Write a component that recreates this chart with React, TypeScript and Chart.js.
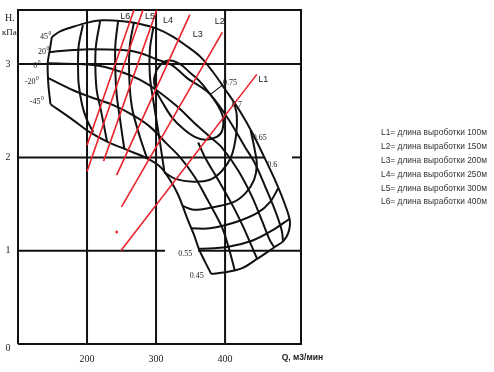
import React, { useEffect, useRef } from "react";
import { Chart, registerables } from "chart.js";

Chart.register(...registerables);

type P = [number, number];

// axis ranges
const Q_MIN = 100;
const Q_MAX = 510;
const H_MIN = 0;
const H_MAX = 3.58;
const xTicks = [200, 300, 400];
const yTicks = [0, 1, 2, 3];

// fan characteristic: blade angle curves (Q m3/min, H kPa)
const leftEdge: P[] = [[149, 3.29], [146, 3.15], [143, 3.01], [144, 2.78], [147, 2.57]];
const blade45: P[] = [[149, 3.29], [161, 3.35], [180, 3.40], [204, 3.45], [222, 3.47], [252, 3.46], [277, 3.43], [301, 3.38], [323, 3.30], [345, 3.19], [364, 3.08], [383, 2.91], [401, 2.72], [422, 2.49], [439, 2.27], [455, 2.03], [474, 1.73], [487, 1.49], [494, 1.31]];
const blade20: P[] = [[146, 3.13], [161, 3.14], [180, 3.15], [204, 3.16], [252, 3.15], [277, 3.12], [301, 3.05], [323, 2.99], [345, 2.85], [364, 2.76], [378, 2.68], [404, 2.42], [429, 2.11], [443, 1.94], [458, 1.69], [472, 1.44], [482, 1.22], [484, 1.10]];
const blade0: P[] = [[143, 3.01], [190, 3.00], [219, 2.98], [252, 2.91], [277, 2.83], [301, 2.72], [330, 2.55], [354, 2.38], [378, 2.22], [396, 2.10], [419, 1.86], [439, 1.58], [453, 1.33], [465, 1.11], [471, 1.04]];
const bladeM20: P[] = [[144, 2.85], [180, 2.72], [204, 2.65], [238, 2.56], [267, 2.45], [291, 2.33], [315, 2.15], [335, 2.00], [356, 1.79], [375, 1.54], [395, 1.26], [405, 1.04], [414, 0.79]];
const bladeM45: P[] = [[147, 2.57], [180, 2.40], [204, 2.27], [229, 2.17], [258, 2.08], [287, 1.99], [306, 1.90], [320, 1.76], [332, 1.60], [346, 1.33], [355, 1.17], [362, 1.02], [371, 0.88], [380, 0.75]];
const extraSteep: P[] = [[361, 2.16], [371, 2.00], [390, 1.76], [412, 1.47], [426, 1.26], [439, 1.04], [446, 0.92]];

// transverse curves (upper left)
const cross1: P[] = [[194, 3.42], [188, 3.20], [187, 2.99], [188, 2.78], [193, 2.56], [200, 2.40], [209, 2.27]];
const cross2: P[] = [[219, 3.46], [213, 3.20], [212, 2.99], [214, 2.72], [220, 2.51], [229, 2.17]];
const cross3: P[] = [[245, 3.46], [241, 3.20], [241, 2.94], [243, 2.67], [248, 2.40], [254, 2.09]];
const cross4: P[] = [[268, 3.45], [262, 3.20], [261, 2.90], [265, 2.54], [277, 2.21], [287, 1.99]];
const cross5: P[] = [[296, 3.39], [291, 3.15], [291, 2.88], [296, 2.61], [303, 2.29], [312, 1.85]];

// efficiency contours
const eff075: P[] = [[301, 2.94], [309, 3.01], [320, 3.04], [335, 3.00], [349, 2.91], [364, 2.81], [378, 2.68], [390, 2.55], [397, 2.43], [396, 2.29], [388, 2.22], [371, 2.19], [356, 2.22], [339, 2.31], [323, 2.43], [310, 2.58], [300, 2.72], [297, 2.83], [301, 2.94]];
const eff070: P[] = [[312, 1.84], [328, 1.77], [354, 1.74], [378, 1.76], [396, 1.86], [409, 2.01], [416, 2.24], [417, 2.45], [413, 2.59]];
const eff065: P[] = [[338, 1.48], [354, 1.44], [378, 1.46], [412, 1.52], [430, 1.62], [442, 1.76], [446, 1.92], [443, 2.08], [437, 2.29]];
const eff060: P[] = [[351, 1.24], [378, 1.24], [417, 1.31], [448, 1.41], [465, 1.52], [477, 1.67]];
const eff055: P[] = [[362, 1.02], [403, 1.04], [440, 1.11], [469, 1.22], [493, 1.34]];
const eff045: P[] = [[380, 0.75], [400, 0.77], [424, 0.81], [448, 0.92], [472, 1.04], [484, 1.10], [491, 1.18], [494, 1.31]];
const leader075: P[] = [[378, 2.67], [397, 2.78]];

// working lengths (red lines)
const lineL1: P[] = [[249, 1.0], [446, 2.89]];
const lineL2: P[] = [[250, 1.47], [396, 3.34]];
const lineL3: P[] = [[243, 1.81], [349, 3.53]];
const lineL4: P[] = [[224, 1.96], [301, 3.58]];
const lineL5: P[] = [[200, 1.85], [281, 3.58]];
const lineL6: P[] = [[200, 2.13], [268, 3.58]];
const redDot: P[] = [[243, 1.2]];

// grid lines (with gaps as in the original)
const gridLines: P[][] = [
  [[200, 0], [200, 3.58]],
  [[300, 0], [300, 3.58]],
  [[400, 0], [400, 3.58]],
  [[100, 3], [510, 3]],
  [[100, 2], [458, 2]],
  [[497, 2], [510, 2]],
  [[100, 1], [313, 1]],
  [[361, 1], [510, 1]],
];
const frame: P[] = [[100, 0], [510, 0], [510, 3.58], [100, 3.58], [100, 0]];

// labels
const angleNames = ["45", "20", "0", "-20", "-45"];
const angleQ = [132, 129, 122, 110, 117];
const angleH = [3.29, 3.13, 2.98, 2.81, 2.6];
const effNames = ["0.75", "0.7", "0.65", "0.6", "0.55", "0.45"];
const effQ = [397, 410, 440, 461, 332, 349];
const effH = [2.8, 2.56, 2.21, 1.92, 0.97, 0.73];
const lNames = ["L1", "L2", "L3", "L4", "L5", "L6"];
const lQ = [448, 385, 353, 310, 284, 248];
const lH = [2.83, 3.46, 3.32, 3.47, 3.51, 3.51];
const legendLines = [
  "L1= длина выроботки 100м",
  "L2= длина выработки 150м",
  "L3= длина выроботки 200м",
  "L4= длина выроботки 250м",
  "L5= длина выроботки 300м",
  "L6= длина выработки 400м",
];

const BLACK = "#111111";
const RED = "#e8232b";

function ds(pts: P[], color: string, width: number, order: number, tension = 0.35) {
  return {
    data: pts.map(([x, y]) => ({ x, y })),
    showLine: true,
    borderColor: color,
    backgroundColor: color,
    borderWidth: width,
    pointRadius: 0,
    tension,
    fill: false,
    order,
    clip: 4,
  };
}

const outline: P[] = blade45.concat(eff045.slice().reverse().slice(1));

const textPlugin = {
  id: "texts",
  afterDatasetsDraw(chart: any) {
    const { ctx, chartArea } = chart;
    const xs = chart.scales.x;
    const ys = chart.scales.y;
    ctx.save();
    ctx.fillStyle = "#222";
    ctx.textBaseline = "middle";
    // tick labels
    ctx.font = '10px "Liberation Serif"';
    ctx.textAlign = "center";
    yTicks.forEach((v) => {
      ctx.fillText(String(v), chartArea.left - 10, ys.getPixelForValue(v) + (v === 0 ? 4 : 0));
    });
    xTicks.forEach((v) => {
      ctx.fillText(String(v), xs.getPixelForValue(v), chartArea.bottom + 15);
    });
    // axis titles
    ctx.textAlign = "left";
    ctx.fillText("H.", 5, chartArea.top + 8);
    ctx.font = '9px "Liberation Serif"';
    ctx.fillText("кПа", 2, chartArea.top + 23);
    ctx.font = 'bold 8.5px "Liberation Sans"';
    ctx.fillText("Q, м3/мин", xs.getPixelForValue(482), chartArea.bottom + 14);
    // blade angles
    angleNames.forEach((t, i) => {
      const px = xs.getPixelForValue(angleQ[i]);
      const py = ys.getPixelForValue(angleH[i]);
      ctx.font = '8px "Liberation Serif"';
      ctx.fillText(t, px, py);
      const w = ctx.measureText(t).width;
      ctx.font = '5.5px "Liberation Serif"';
      ctx.fillText("0", px + w + 0.5, py - 3);
    });
    // efficiency labels
    ctx.font = '8px "Liberation Serif"';
    effNames.forEach((t, i) => {
      ctx.fillText(t, xs.getPixelForValue(effQ[i]), ys.getPixelForValue(effH[i]));
    });
    // L labels
    ctx.font = '9px "Liberation Sans"';
    lNames.forEach((t, i) => {
      ctx.fillText(t, xs.getPixelForValue(lQ[i]), ys.getPixelForValue(lH[i]));
    });
    // legend
    ctx.fillStyle = "#333";
    ctx.font = '8.4px "Liberation Sans"';
    legendLines.forEach((t, i) => {
      ctx.fillText(t, chartArea.right + 80, chartArea.top + 123 + i * 13.8);
    });
    ctx.restore();
  },
};

export default function App() {
  const ref = useRef<HTMLCanvasElement>(null);
  useEffect(() => {
    const canvas = ref.current;
    if (!canvas) return;
    const datasets: any[] = [
      ds(lineL1, RED, 1.6, 0, 0),
      ds(lineL2, RED, 1.6, 0, 0),
      ds(lineL3, RED, 1.6, 0, 0),
      ds(lineL4, RED, 1.6, 0, 0),
      ds(lineL5, RED, 1.6, 0, 0),
      ds(lineL6, RED, 1.6, 0, 0),
      { ...ds(redDot, RED, 1, 0, 0), showLine: false, pointRadius: 1 },
      ds(leftEdge, BLACK, 2, 1, 0.2),
      ds(outline, BLACK, 2, 1),
      ds(blade20, BLACK, 2, 1),
      ds(blade0, BLACK, 2, 1),
      ds(bladeM20, BLACK, 2, 1),
      ds(bladeM45, BLACK, 2, 1),
      ds(extraSteep, BLACK, 2, 1),
      ds(cross1, BLACK, 2, 1),
      ds(cross2, BLACK, 2, 1),
      ds(cross3, BLACK, 2, 1),
      ds(cross4, BLACK, 2, 1),
      ds(cross5, BLACK, 2, 1),
      ds(eff075, BLACK, 2, 1),
      ds(eff070, BLACK, 2, 1),
      ds(eff065, BLACK, 2, 1),
      ds(eff060, BLACK, 2, 1),
      ds(eff055, BLACK, 2, 1),
      ds(leader075, BLACK, 1.2, 1, 0),
      ...gridLines.map((g) => ds(g, BLACK, 2, 2, 0)),
      ds(frame, BLACK, 2, 2, 0),
    ];
    const chart = new Chart(canvas, {
      type: "scatter",
      data: { datasets },
      options: {
        responsive: false,
        animation: false,
        devicePixelRatio: 1,
        events: [],
        layout: { padding: { left: 18, top: 10, right: 193, bottom: 28 } },
        plugins: { legend: { display: false }, tooltip: { enabled: false } },
        scales: {
          x: { type: "linear", min: Q_MIN, max: Q_MAX, display: false },
          y: { type: "linear", min: H_MIN, max: H_MAX, display: false },
        },
      },
      plugins: [textPlugin],
    } as any);
    return () => chart.destroy();
  }, []);
  return (
    <div style={{ position: "absolute", left: 0, top: 0, width: 494, height: 372, background: "#fff" }}>
      <canvas ref={ref} width={494} height={372} style={{ display: "block" }} />
    </div>
  );
}
